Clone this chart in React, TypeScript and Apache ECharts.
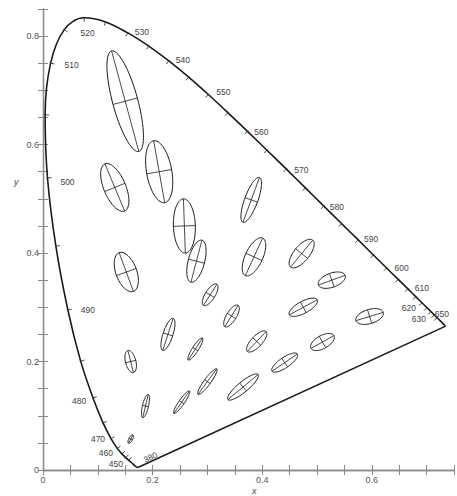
import React, { useEffect, useRef } from "react";
import * as echarts from "echarts";

// CIE 1931 spectral locus (wavelength in nm, chromaticity x, y)
const LOCUS_NM = [
  380, 385, 390, 395, 400, 405, 410, 415, 420, 425, 430, 435, 440, 445, 450, 455, 460, 465, 470, 475,
  480, 485, 490, 495, 500, 505, 510, 515, 520, 525, 530, 535, 540, 545, 550, 555, 560, 565, 570, 575,
  580, 585, 590, 595, 600, 605, 610, 615, 620, 625, 630, 635, 640, 645, 650, 655, 660, 665, 670, 675,
  680, 685, 690, 695, 700,
];
const LOCUS_X = [
  0.1741, 0.174, 0.1738, 0.1736, 0.1733, 0.173, 0.1726, 0.1721, 0.1714, 0.1703, 0.1689, 0.1669, 0.1644,
  0.1611, 0.1566, 0.151, 0.144, 0.1355, 0.1241, 0.1096, 0.0913, 0.0687, 0.0454, 0.0235, 0.0082, 0.0039,
  0.0139, 0.0389, 0.0743, 0.1142, 0.1547, 0.1929, 0.2296, 0.2658, 0.3016, 0.3373, 0.3731, 0.4087, 0.4441,
  0.4788, 0.5125, 0.5448, 0.5752, 0.6029, 0.627, 0.6482, 0.6658, 0.6801, 0.6915, 0.7006, 0.7079, 0.714,
  0.719, 0.723, 0.726, 0.7283, 0.73, 0.7311, 0.732, 0.7327, 0.7334, 0.734, 0.7344, 0.7346, 0.7347,
];
const LOCUS_Y = [
  0.005, 0.005, 0.0049, 0.0049, 0.0048, 0.0048, 0.0048, 0.0048, 0.0051, 0.0058, 0.0069, 0.0086, 0.0109,
  0.0138, 0.0177, 0.0227, 0.0297, 0.0399, 0.0578, 0.0868, 0.1327, 0.2007, 0.295, 0.4127, 0.5384, 0.6548,
  0.7502, 0.812, 0.8338, 0.8262, 0.8059, 0.7816, 0.7543, 0.7243, 0.6923, 0.6589, 0.6245, 0.5896, 0.5547,
  0.5202, 0.4866, 0.4544, 0.4242, 0.3965, 0.3725, 0.3514, 0.334, 0.3197, 0.3083, 0.2993, 0.292, 0.2859,
  0.2809, 0.277, 0.274, 0.2717, 0.27, 0.2689, 0.268, 0.2673, 0.2666, 0.266, 0.2656, 0.2654, 0.2653,
];

// Wavelengths that carry a label
const LABELED_NM = [380, 450, 460, 470, 480, 490, 500, 510, 520, 530, 540, 550, 560, 570, 580, 590, 600, 610, 620, 630, 650];

// MacAdam ellipses: centre x, centre y, semi-axes a, b (x 10^-3), angle (deg)
const ELL_X = [0.16, 0.187, 0.253, 0.15, 0.131, 0.212, 0.258, 0.152, 0.28, 0.38, 0.16, 0.228, 0.305, 0.385, 0.472, 0.527, 0.475, 0.51, 0.596, 0.344, 0.39, 0.441, 0.278, 0.3, 0.365];
const ELL_Y = [0.057, 0.118, 0.125, 0.68, 0.521, 0.55, 0.45, 0.365, 0.385, 0.498, 0.2, 0.25, 0.323, 0.393, 0.399, 0.35, 0.3, 0.236, 0.283, 0.284, 0.237, 0.198, 0.223, 0.163, 0.153];
const ELL_A = [0.85, 2.2, 2.5, 9.6, 4.7, 5.8, 5.0, 3.8, 4.0, 4.4, 2.1, 3.1, 2.3, 3.8, 3.2, 2.6, 2.9, 2.4, 2.6, 2.3, 2.5, 2.8, 2.4, 2.9, 3.6];
const ELL_B = [0.35, 0.55, 0.5, 2.3, 2.0, 2.3, 2.0, 1.9, 1.5, 1.2, 0.95, 0.9, 0.9, 1.6, 1.4, 1.3, 1.1, 1.2, 1.3, 0.9, 1.0, 0.95, 0.55, 0.6, 0.95];
const ELL_T = [62.5, 77, 55.5, 105, 112.5, 100, 92, 110, 75.5, 70, 104, 72, 58, 65.5, 51, 20, 28.5, 29.5, 17, 58.5, 47, 34.5, 57.5, 54, 40];

const MAGNIFY = 10;

// pixel offsets (styling) of wavelength labels relative to their locus point
const LABEL_OFFSET: Record<number, [number, number]> = {
  380: [12, -10], 450: [-13, 4], 460: [-16, -1], 470: [-13, 0], 480: [-14, 3], 490: [20, 0],
  500: [20, 4], 510: [21, 2], 520: [4, 15], 530: [14, -1], 540: [14, -1], 550: [15, -3],
  560: [14, 1], 570: [15, 1], 580: [13, 1], 590: [13, -1], 600: [15, 0], 610: [14, -1],
  620: [-13, 5], 630: [-12, 7], 650: [1, -7],
};

const FONT = "Liberation Sans";

function tickFormatter(v: number) {
  const k = v / 0.2;
  if (Math.abs(k - Math.round(k)) < 1e-6) return Math.abs(v) < 1e-9 ? "0" : v.toFixed(1);
  return "";
}

export default function App() {
  const ref = useRef<HTMLDivElement>(null);
  useEffect(() => {
    if (!ref.current) return;
    const chart = echarts.init(ref.current, undefined, { renderer: "svg" });

    const last = LOCUS_NM.length - 1;
    const locusData = LOCUS_NM.map((_, i) => [LOCUS_X[i], LOCUS_Y[i]]);
    const purpleData = [
      [LOCUS_X[last], LOCUS_Y[last]],
      [LOCUS_X[0], LOCUS_Y[0]],
    ];

    const markData = LOCUS_NM.map((nm, i) => [LOCUS_X[i], LOCUS_Y[i], nm, i]).filter(
      (d) => (d[2] >= 450 && d[2] <= 640) || LABELED_NM.includes(d[2])
    );

    const ellData = ELL_X.map((x, i) => [x, ELL_Y[i], ELL_A[i], ELL_B[i], ELL_T[i]]);

    const axisLine = { show: true, lineStyle: { color: "#8a8a8a", width: 1.3 } };
    const axisTick = { show: true, inside: true, length: 5, lineStyle: { color: "#8a8a8a", width: 1 } };

    chart.setOption({
      animation: false,
      backgroundColor: "#ffffff",
      textStyle: { fontFamily: FONT },
      grid: { left: 43, top: 9, width: 418, height: 461 },
      xAxis: [
        {
          type: "value", min: 0, max: 0.75, interval: 0.05, position: "bottom",
          axisLine, axisTick,
          axisLabel: { formatter: tickFormatter, fontSize: 9, color: "#555", margin: 5, fontFamily: FONT },
          splitLine: { show: false },
        },
        {
          type: "value", min: 0, max: 0.75, interval: 0.05, position: "top",
          axisLine, axisTick, axisLabel: { show: false }, splitLine: { show: false },
        },
      ],
      yAxis: [
        {
          type: "value", min: 0, max: 0.85, interval: 0.05, position: "left",
          axisLine, axisTick,
          axisLabel: { formatter: tickFormatter, fontSize: 9, color: "#555", margin: 4, fontFamily: FONT },
          splitLine: { show: false },
        },
        {
          type: "value", min: 0, max: 0.85, interval: 0.05, position: "right",
          axisLine, axisTick, axisLabel: { show: false }, splitLine: { show: false },
        },
      ],
      graphic: [
        { type: "text", left: 14, top: 177, style: { text: "y", font: `italic 9px ${FONT}`, fill: "#444" } },
        { type: "text", left: 252, top: 486, style: { text: "x", font: `italic 9px ${FONT}`, fill: "#444" } },
      ],
      series: [
        {
          type: "line",
          data: locusData,
          symbol: "none",
          smooth: 0.35,
          lineStyle: { color: "#1a1a1a", width: 1.6 },
          silent: true,
          z: 3,
        },
        {
          type: "line",
          data: purpleData,
          symbol: "none",
          lineStyle: { color: "#1a1a1a", width: 1.5 },
          silent: true,
          z: 3,
        },
        {
          type: "custom",
          data: markData,
          silent: true,
          z: 4,
          renderItem: (params: any, api: any) => {
            const i = api.value(3);
            const nm = api.value(2);
            const p = api.coord([api.value(0), api.value(1)]);
            const ia = Math.max(0, i - 1);
            const ib = Math.min(LOCUS_NM.length - 1, i + 1);
            const a = api.coord([LOCUS_X[ia], LOCUS_Y[ia]]);
            const b = api.coord([LOCUS_X[ib], LOCUS_Y[ib]]);
            let tx = b[0] - a[0];
            let ty = b[1] - a[1];
            const L = Math.hypot(tx, ty) || 1;
            tx /= L;
            ty /= L;
            const nx = -ty;
            const ny = tx;
            const children: any[] = [];
            if (nm >= 450 && nm <= 640) {
              children.push({
                type: "line",
                shape: { x1: p[0] - nx * 1, y1: p[1] - ny * 1, x2: p[0] + nx * 4, y2: p[1] + ny * 4 },
                style: { stroke: "#333", lineWidth: 0.9 },
              });
            }
            if (LABELED_NM.includes(nm)) {
              const off = LABEL_OFFSET[nm] || [10, 0];
              children.push({
                type: "text",
                x: p[0] + off[0],
                y: p[1] + off[1],
                rotation: nm === 380 ? 0.42 : 0,
                style: {
                  text: String(nm),
                  font: `8.5px ${FONT}`,
                  fill: "#444",
                  align: "center",
                  verticalAlign: "middle",
                },
              });
            }
            return { type: "group", children };
          },
        },
        {
          type: "custom",
          data: ellData,
          silent: true,
          z: 5,
          renderItem: (params: any, api: any) => {
            const cx = api.value(0);
            const cy = api.value(1);
            const A = api.value(2) * 1e-3 * MAGNIFY;
            const B = api.value(3) * 1e-3 * MAGNIFY;
            const th = (api.value(4) * Math.PI) / 180;
            const c = Math.cos(th);
            const s = Math.sin(th);
            const pts: number[][] = [];
            const N = 72;
            for (let k = 0; k < N; k++) {
              const t = (2 * Math.PI * k) / N;
              const dx = A * Math.cos(t) * c - B * Math.sin(t) * s;
              const dy = A * Math.cos(t) * s + B * Math.sin(t) * c;
              pts.push(api.coord([cx + dx, cy + dy]));
            }
            const m1 = api.coord([cx - A * c, cy - A * s]);
            const m2 = api.coord([cx + A * c, cy + A * s]);
            const n1 = api.coord([cx + B * s, cy - B * c]);
            const n2 = api.coord([cx - B * s, cy + B * c]);
            return {
              type: "group",
              children: [
                { type: "polygon", shape: { points: pts }, style: { fill: "none", stroke: "#1a1a1a", lineWidth: 1 } },
                { type: "line", shape: { x1: m1[0], y1: m1[1], x2: m2[0], y2: m2[1] }, style: { stroke: "#1a1a1a", lineWidth: 0.8 } },
                { type: "line", shape: { x1: n1[0], y1: n1[1], x2: n2[0], y2: n2[1] }, style: { stroke: "#1a1a1a", lineWidth: 0.8 } },
              ],
            };
          },
        },
      ],
    });
    return () => chart.dispose();
  }, []);
  return (
    <div
      ref={ref}
      style={{ position: "fixed", left: 0, top: 0, width: 457, height: 496, background: "#fff" }}
    />
  );
}
